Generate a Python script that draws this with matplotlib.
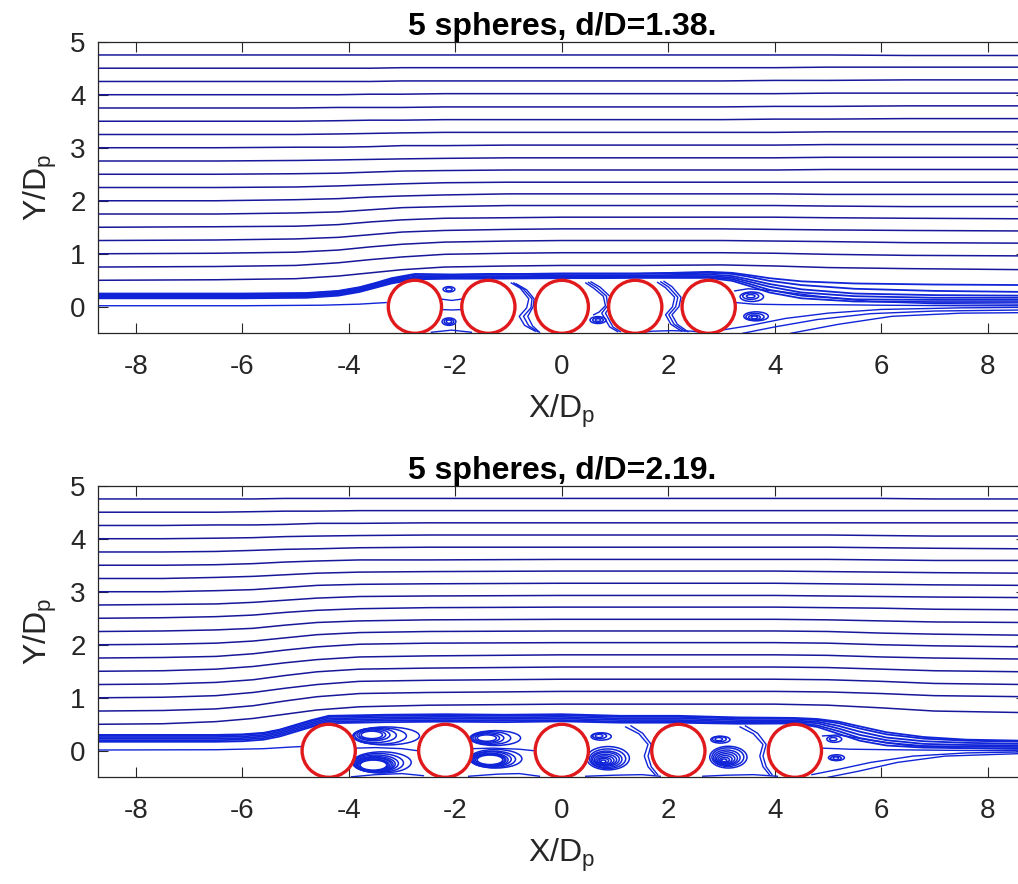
import matplotlib
matplotlib.use("Agg")
import matplotlib.pyplot as plt
from matplotlib.patches import Circle, Ellipse

plt.rcParams['font.family'] = ['Liberation Sans', 'DejaVu Sans']
plt.rcParams['mathtext.fontset'] = 'custom'
plt.rcParams['mathtext.rm'] = 'Liberation Sans'
plt.rcParams['axes.unicode_minus'] = False

# ---------------- data: top panel (d/D = 1.38) ----------------
TOP_TITLE = '5 spheres, d/D=1.38.'
TOP_SPHERES = [-2.76, -1.38, 0.0, 1.38, 2.76]

TOP_OUTER_X = [-8.71, -6.5, -5.0, -4.2, -3.6, -3.0, -2.2, -1.0, 0.0, 1.5, 3.0, 4.0, 5.0, 6.5, 8.71]
TOP_OUTER_Y = [
    [0.50, 0.51, 0.53, 0.58, 0.64, 0.70, 0.75, 0.77, 0.78, 0.78, 0.79, 0.77, 0.74, 0.72, 0.70],
    [0.75, 0.76, 0.78, 0.83, 0.89, 0.94, 0.99, 1.01, 1.02, 1.02, 1.02, 1.01, 0.99, 0.97, 0.96],
    [1.00, 1.01, 1.03, 1.07, 1.13, 1.18, 1.22, 1.24, 1.25, 1.25, 1.25, 1.24, 1.23, 1.21, 1.20],
    [1.25, 1.26, 1.28, 1.31, 1.36, 1.41, 1.44, 1.46, 1.47, 1.47, 1.47, 1.46, 1.45, 1.44, 1.43],
    [1.50, 1.51, 1.52, 1.55, 1.60, 1.64, 1.67, 1.68, 1.69, 1.69, 1.69, 1.69, 1.68, 1.67, 1.66],
    [1.75, 1.75, 1.77, 1.79, 1.83, 1.87, 1.89, 1.91, 1.91, 1.91, 1.91, 1.91, 1.90, 1.89, 1.89],
    [2.00, 2.00, 2.02, 2.04, 2.07, 2.09, 2.11, 2.13, 2.13, 2.13, 2.13, 2.13, 2.12, 2.12, 2.12],
    [2.25, 2.25, 2.26, 2.28, 2.30, 2.32, 2.34, 2.35, 2.35, 2.35, 2.35, 2.35, 2.35, 2.35, 2.35],
    [2.50, 2.50, 2.51, 2.52, 2.54, 2.56, 2.57, 2.58, 2.58, 2.58, 2.58, 2.58, 2.59, 2.59, 2.59],
    [2.75, 2.75, 2.76, 2.77, 2.78, 2.79, 2.80, 2.81, 2.81, 2.81, 2.81, 2.81, 2.82, 2.82, 2.82],
    [3.00, 3.00, 3.01, 3.01, 3.02, 3.04, 3.04, 3.05, 3.05, 3.05, 3.05, 3.05, 3.06, 3.06, 3.06],
    [3.25, 3.25, 3.25, 3.26, 3.27, 3.28, 3.29, 3.29, 3.29, 3.29, 3.29, 3.29, 3.30, 3.30, 3.30],
    [3.50, 3.50, 3.50, 3.51, 3.52, 3.52, 3.53, 3.53, 3.53, 3.53, 3.53, 3.54, 3.54, 3.55, 3.55],
    [3.75, 3.75, 3.75, 3.76, 3.76, 3.76, 3.77, 3.77, 3.77, 3.77, 3.77, 3.78, 3.78, 3.79, 3.79],
    [4.00, 4.00, 4.00, 4.00, 4.01, 4.01, 4.02, 4.02, 4.02, 4.02, 4.02, 4.02, 4.03, 4.03, 4.03],
    [4.25, 4.25, 4.25, 4.25, 4.25, 4.26, 4.26, 4.26, 4.26, 4.26, 4.26, 4.27, 4.27, 4.28, 4.28],
    [4.50, 4.50, 4.50, 4.50, 4.50, 4.51, 4.51, 4.51, 4.51, 4.51, 4.51, 4.51, 4.52, 4.52, 4.52],
    [4.75, 4.75, 4.75, 4.75, 4.75, 4.75, 4.75, 4.75, 4.75, 4.75, 4.75, 4.75, 4.75, 4.74, 4.74],
]

TOP_BUNDLE_X = [-8.71, -6.0, -4.8, -4.2, -3.8, -3.5, -3.2, -2.76, -2.07, -1.38, -0.69, 0.0,
                0.69, 1.38, 2.07, 2.76, 3.2, 3.5, 3.9, 4.5, 5.5, 7.0, 8.71]
TOP_BUNDLE_Y = [
    [0.25, 0.25, 0.26, 0.30, 0.37, 0.45, 0.54, 0.62, 0.61, 0.62, 0.62, 0.63, 0.63, 0.63, 0.64, 0.66, 0.64, 0.60, 0.54, 0.48, 0.44, 0.42, 0.41],
    [0.24, 0.24, 0.25, 0.29, 0.36, 0.44, 0.52, 0.60, 0.60, 0.61, 0.61, 0.62, 0.62, 0.62, 0.63, 0.64, 0.62, 0.57, 0.49, 0.41, 0.34, 0.30, 0.28],
    [0.22, 0.22, 0.23, 0.27, 0.34, 0.42, 0.50, 0.57, 0.58, 0.58, 0.58, 0.59, 0.59, 0.59, 0.60, 0.61, 0.58, 0.52, 0.43, 0.33, 0.25, 0.22, 0.21],
    [0.20, 0.20, 0.21, 0.25, 0.32, 0.40, 0.48, 0.55, 0.56, 0.56, 0.56, 0.57, 0.57, 0.57, 0.58, 0.58, 0.55, 0.48, 0.38, 0.27, 0.20, 0.17, 0.17],
    [0.18, 0.18, 0.19, 0.23, 0.30, 0.38, 0.46, 0.535, 0.545, 0.545, 0.55, 0.555, 0.555, 0.56, 0.56, 0.56, 0.52, 0.44, 0.32, 0.21, 0.14, 0.13, 0.13],
    [0.16, 0.16, 0.17, 0.21, 0.28, 0.36, 0.44, 0.52, 0.53, 0.53, 0.535, 0.54, 0.54, 0.545, 0.545, 0.545, 0.49, 0.40, 0.27, 0.16, 0.10, 0.09, 0.09],
]

TOP_CURVES = [
    # lowest inflow line, ends on the first sphere
    ([-8.71, -6.0, -4.5, -3.8, -3.3], [0.02, 0.02, 0.03, 0.05, 0.08]),
    # wake lines
    ([3.25, 3.5, 4.0, 4.8, 5.8, 7.0, 8.71], [0.30, 0.34, 0.30, 0.20, 0.10, 0.06, 0.05]),
    ([3.27, 3.6, 4.2, 5.0, 6.0, 7.5, 8.71], [0.08, 0.05, 0.04, 0.04, 0.03, 0.02, 0.02]),
    ([3.0, 3.5, 4.2, 5.0, 6.0, 7.5, 8.71], [-0.44, -0.36, -0.22, -0.12, -0.05, -0.02, -0.01]),
    ([3.4, 4.0, 4.8, 5.8, 7.0, 8.71], [-0.50, -0.38, -0.24, -0.13, -0.08, -0.06]),
    ([4.3, 5.2, 6.2, 7.5, 8.71], [-0.50, -0.33, -0.18, -0.12, -0.11]),
    # gap 1
    ([-2.30, -2.07, -1.84], [0.15, 0.12, 0.15]),
    ([-2.31, -2.07, -1.83], [-0.05, -0.06, -0.05]),
    ([-2.45, -2.07, -1.70], [-0.48, -0.44, -0.48]),
    # gap 2
    ([-0.95, -0.78, -0.62, -0.66, -0.80, -0.70, -0.50], [0.45, 0.35, 0.15, -0.02, -0.18, -0.35, -0.46]),
    ([-0.90, -0.72, -0.56, -0.58, -0.72, -0.62, -0.45], [0.45, 0.33, 0.15, -0.02, -0.18, -0.36, -0.47]),
    ([-0.85, -0.66, -0.52, -0.54, -0.64, -0.55, -0.42], [0.43, 0.32, 0.15, 0.00, -0.18, -0.36, -0.48]),
    # gap 3
    ([0.45, 0.60, 0.78, 0.82, 0.70, 0.60], [0.45, 0.35, 0.20, 0.02, -0.10, -0.15]),
    ([0.50, 0.66, 0.84, 0.86, 0.75, 0.90, 1.05], [0.46, 0.36, 0.20, 0.02, -0.12, -0.38, -0.47]),
    ([0.55, 0.72, 0.90, 0.92, 0.82, 0.96, 1.10], [0.47, 0.37, 0.20, 0.02, -0.12, -0.38, -0.47]),
    # gap 4
    ([1.80, 1.95, 2.12, 2.08, 1.95, 2.05, 2.25], [0.46, 0.36, 0.18, 0.00, -0.15, -0.33, -0.46]),
    ([1.86, 2.01, 2.18, 2.14, 2.01, 2.11, 2.31], [0.47, 0.37, 0.18, 0.00, -0.15, -0.33, -0.46]),
    ([1.92, 2.07, 2.24, 2.20, 2.07, 2.17, 2.37], [0.48, 0.38, 0.18, 0.00, -0.15, -0.33, -0.47]),
    ([1.45, 1.70, 2.07, 2.45, 2.70], [-0.49, -0.46, -0.45, -0.46, -0.49]),
]

# closed recirculation loops: centre x, centre y, width, height
TOP_VORTEX_X = [-2.12, -2.12, -2.12, -2.12, -2.12, 0.68, 0.68, 0.68, 3.55, 3.55, 3.57, 3.62, 3.62, 3.63, 3.65]
TOP_VORTEX_Y = [0.33, 0.33, -0.28, -0.28, -0.28, -0.25, -0.25, -0.25, 0.20, 0.20, 0.19, -0.20, -0.20, -0.19, -0.18]
TOP_VORTEX_W = [0.12, 0.22, 0.10, 0.18, 0.26, 0.10, 0.20, 0.30, 0.16, 0.30, 0.44, 0.12, 0.22, 0.34, 0.46]
TOP_VORTEX_H = [0.06, 0.10, 0.06, 0.10, 0.14, 0.05, 0.09, 0.13, 0.06, 0.12, 0.18, 0.05, 0.09, 0.13, 0.17]

# ---------------- data: bottom panel (d/D = 2.19) ----------------
BOT_TITLE = '5 spheres, d/D=2.19.'
BOT_SPHERES = [-4.38, -2.19, 0.0, 2.19, 4.38]

BOT_OUTER_X = [-8.71, -7.5, -6.5, -5.8, -5.2, -4.6, -3.8, -2.5, 0.0, 2.2, 4.0, 5.0, 6.0, 7.0, 8.71]
BOT_OUTER_Y = [
    [0.50, 0.51, 0.55, 0.61, 0.69, 0.77, 0.83, 0.86, 0.88, 0.88, 0.88, 0.86, 0.81, 0.75, 0.72],
    [0.75, 0.76, 0.79, 0.85, 0.94, 1.02, 1.08, 1.10, 1.12, 1.12, 1.12, 1.11, 1.08, 1.04, 1.02],
    [1.00, 1.01, 1.04, 1.10, 1.18, 1.25, 1.31, 1.33, 1.35, 1.35, 1.35, 1.34, 1.31, 1.27, 1.25],
    [1.25, 1.26, 1.29, 1.34, 1.42, 1.49, 1.54, 1.56, 1.58, 1.58, 1.58, 1.57, 1.54, 1.51, 1.49],
    [1.50, 1.51, 1.54, 1.59, 1.66, 1.72, 1.77, 1.79, 1.81, 1.81, 1.81, 1.80, 1.77, 1.75, 1.73],
    [1.75, 1.76, 1.78, 1.83, 1.90, 1.96, 2.01, 2.03, 2.04, 2.04, 2.04, 2.03, 2.00, 1.98, 1.96],
    [2.00, 2.01, 2.03, 2.07, 2.13, 2.19, 2.23, 2.25, 2.26, 2.26, 2.26, 2.25, 2.22, 2.20, 2.18],
    [2.25, 2.26, 2.28, 2.31, 2.37, 2.42, 2.45, 2.47, 2.48, 2.48, 2.48, 2.47, 2.45, 2.43, 2.42],
    [2.50, 2.51, 2.53, 2.56, 2.61, 2.65, 2.68, 2.70, 2.71, 2.71, 2.71, 2.70, 2.69, 2.67, 2.66],
    [2.75, 2.76, 2.77, 2.80, 2.84, 2.88, 2.91, 2.92, 2.93, 2.93, 2.93, 2.92, 2.91, 2.90, 2.89],
    [3.00, 3.00, 3.02, 3.04, 3.08, 3.12, 3.14, 3.15, 3.16, 3.16, 3.16, 3.15, 3.14, 3.13, 3.12],
    [3.25, 3.25, 3.27, 3.29, 3.32, 3.35, 3.37, 3.38, 3.39, 3.39, 3.39, 3.38, 3.37, 3.36, 3.35],
    [3.50, 3.50, 3.51, 3.53, 3.56, 3.58, 3.60, 3.60, 3.61, 3.61, 3.61, 3.61, 3.60, 3.59, 3.59],
    [3.75, 3.75, 3.76, 3.78, 3.80, 3.81, 3.83, 3.84, 3.84, 3.84, 3.84, 3.84, 3.83, 3.82, 3.81],
    [4.00, 4.00, 4.01, 4.02, 4.04, 4.05, 4.06, 4.07, 4.07, 4.07, 4.07, 4.07, 4.06, 4.05, 4.05],
    [4.25, 4.25, 4.26, 4.26, 4.27, 4.29, 4.29, 4.30, 4.30, 4.30, 4.30, 4.30, 4.30, 4.30, 4.30],
    [4.50, 4.50, 4.50, 4.51, 4.52, 4.52, 4.53, 4.53, 4.53, 4.53, 4.53, 4.53, 4.53, 4.53, 4.53],
    [4.75, 4.75, 4.75, 4.75, 4.76, 4.76, 4.76, 4.76, 4.76, 4.76, 4.76, 4.76, 4.76, 4.75, 4.75],
]

BOT_BUNDLE_X = [-8.71, -6.5, -6.0, -5.6, -5.3, -5.0, -4.7, -4.38, -3.3, -2.19, -1.1, 0.0,
                1.1, 2.19, 3.3, 4.38, 4.8, 5.2, 5.6, 6.1, 6.8, 7.6, 8.71]
BOT_BUNDLE_Y = [
    [0.30, 0.30, 0.31, 0.34, 0.40, 0.49, 0.58, 0.66, 0.68, 0.69, 0.68, 0.69, 0.66, 0.66, 0.63, 0.62, 0.60, 0.55, 0.46, 0.35, 0.26, 0.21, 0.19],
    [0.29, 0.29, 0.30, 0.33, 0.39, 0.48, 0.56, 0.64, 0.66, 0.67, 0.66, 0.67, 0.64, 0.64, 0.61, 0.60, 0.58, 0.52, 0.42, 0.31, 0.23, 0.19, 0.17],
    [0.26, 0.26, 0.27, 0.30, 0.36, 0.45, 0.53, 0.61, 0.63, 0.64, 0.63, 0.64, 0.61, 0.61, 0.58, 0.57, 0.55, 0.47, 0.36, 0.25, 0.18, 0.15, 0.13],
    [0.23, 0.23, 0.24, 0.27, 0.33, 0.42, 0.50, 0.58, 0.60, 0.61, 0.60, 0.61, 0.58, 0.58, 0.55, 0.55, 0.52, 0.42, 0.30, 0.20, 0.13, 0.11, 0.10],
    [0.20, 0.20, 0.21, 0.24, 0.30, 0.39, 0.47, 0.55, 0.57, 0.58, 0.57, 0.58, 0.55, 0.55, 0.53, 0.53, 0.48, 0.37, 0.24, 0.15, 0.09, 0.08, 0.07],
    [0.17, 0.17, 0.18, 0.21, 0.27, 0.36, 0.45, 0.52, 0.54, 0.55, 0.54, 0.555, 0.53, 0.53, 0.51, 0.515, 0.45, 0.32, 0.19, 0.10, 0.06, 0.05, 0.04],
]

BOT_CURVES = [
    ([-8.71, -6.5, -5.6, -5.1, -4.9], [0.015, 0.02, 0.04, 0.07, 0.08]),
    # wake
    ([4.9, 5.2, 5.8, 6.5, 7.5, 8.71], [0.28, 0.30, 0.20, 0.10, 0.05, 0.03]),
    ([4.9, 5.4, 6.2, 7.2, 8.71], [0.05, 0.03, 0.02, 0.01, 0.00]),
    ([4.7, 5.2, 5.8, 6.6, 7.6, 8.71], [-0.45, -0.35, -0.22, -0.10, -0.04, -0.02]),
    ([5.0, 5.6, 6.3, 7.2, 8.71], [-0.50, -0.38, -0.22, -0.10, -0.05]),
    # separating lines in gaps
    ([-3.88, -3.5, -3.0, -2.70], [0.05, 0.06, 0.04, 0.00]),
    ([-1.69, -1.3, -0.8, -0.51], [0.04, 0.05, 0.03, 0.00]),
    ([-3.95, -3.5, -3.0, -2.6], [-0.49, -0.45, -0.43, -0.47]),
    ([-1.75, -1.2, -0.8, -0.42], [-0.48, -0.44, -0.43, -0.48]),
    ([0.45, 1.0, 1.5, 1.85], [-0.48, -0.46, -0.45, -0.48]),
    ([2.65, 3.1, 3.6, 4.05], [-0.48, -0.46, -0.45, -0.48]),
    # S-shaped lines at the rear of gaps 3 and 4
    ([1.20, 1.45, 1.62, 1.55, 1.62, 1.75], [0.45, 0.32, 0.12, -0.10, -0.30, -0.45]),
    ([1.30, 1.52, 1.68, 1.62, 1.68, 1.80], [0.47, 0.33, 0.12, -0.10, -0.30, -0.45]),
    ([3.35, 3.60, 3.78, 3.72, 3.78, 3.90], [0.45, 0.32, 0.12, -0.10, -0.30, -0.45]),
    ([3.45, 3.68, 3.84, 3.78, 3.84, 3.95], [0.47, 0.33, 0.12, -0.10, -0.30, -0.45]),
]

BOT_VORTEX_X = [-3.57, -3.56, -3.54, -3.50, -3.42, -3.30,
                -3.54, -3.54, -3.54, -3.53, -3.52, -3.51, -3.49, -3.45, -3.38,
                -1.41, -1.40, -1.38, -1.33, -1.25,
                -1.35, -1.35, -1.35, -1.34, -1.32, -1.29, -1.24,
                0.70, 0.71, 0.74,
                0.78, 0.79, 0.80, 0.81, 0.82, 0.83, 0.84, 0.86, 0.87,
                2.95, 2.96, 2.98,
                3.05, 3.06, 3.07, 3.08, 3.09, 3.10, 3.12, 3.13,
                5.15, 5.15, 5.16, 5.10, 5.12]
BOT_VORTEX_Y = [0.30, 0.30, 0.30, 0.29, 0.28, 0.28,
                -0.27, -0.27, -0.27, -0.26, -0.26, -0.25, -0.24, -0.23, -0.22,
                0.24, 0.24, 0.24, 0.24, 0.24,
                -0.17, -0.17, -0.17, -0.17, -0.16, -0.16, -0.15,
                0.28, 0.28, 0.27,
                -0.20, -0.19, -0.19, -0.18, -0.17, -0.16, -0.16, -0.15, -0.14,
                0.22, 0.22, 0.21,
                -0.18, -0.17, -0.16, -0.15, -0.14, -0.13, -0.12, -0.12,
                -0.14, -0.14, -0.13, 0.22, 0.22]
BOT_VORTEX_W = [0.40, 0.50, 0.62, 0.78, 1.00, 1.25,
                0.50, 0.55, 0.60, 0.65, 0.70, 0.76, 0.84, 0.95, 1.10,
                0.36, 0.46, 0.58, 0.74, 0.95,
                0.48, 0.54, 0.60, 0.66, 0.74, 0.84, 0.98,
                0.14, 0.26, 0.38,
                0.10, 0.18, 0.26, 0.34, 0.42, 0.50, 0.58, 0.68, 0.80,
                0.14, 0.26, 0.36,
                0.10, 0.18, 0.26, 0.34, 0.42, 0.50, 0.60, 0.70,
                0.10, 0.20, 0.30, 0.14, 0.28]
BOT_VORTEX_H = [0.14, 0.18, 0.22, 0.27, 0.31, 0.34,
                0.19, 0.21, 0.23, 0.25, 0.27, 0.29, 0.32, 0.36, 0.40,
                0.12, 0.16, 0.20, 0.24, 0.28,
                0.18, 0.20, 0.22, 0.25, 0.28, 0.31, 0.35,
                0.06, 0.10, 0.14,
                0.05, 0.09, 0.13, 0.17, 0.21, 0.26, 0.31, 0.37, 0.44,
                0.06, 0.10, 0.13,
                0.05, 0.09, 0.14, 0.19, 0.24, 0.29, 0.35, 0.41,
                0.05, 0.08, 0.11, 0.06, 0.12]

X_TICKS = [-8, -6, -4, -2, 0, 2, 4, 6, 8]
Y_TICKS = [0, 1, 2, 3, 4, 5]
X_LIM = (-8.715, 8.715)
Y_LIM = (-0.5, 5.0)

# ---------------- drawing ----------------
NAVY = '#17179a'
BLUE = '#1024d8'
RED = '#e0191c'
AXC = '#262626'

fig = plt.figure(figsize=(10.18, 8.84), dpi=100)
ax_top = fig.add_axes([0.09627, 0.62296, 0.91120, 0.32986])
ax_bot = fig.add_axes([0.09627, 0.12070, 0.91120, 0.32986])


def draw(ax, title, spheres, ox, oy, bx, by, curves, vx, vy, vw, vh):
    for row in oy:
        ax.plot(ox, row, color=NAVY, lw=1.1, zorder=2)
    for row in by:
        ax.plot(bx, row, color=BLUE, lw=1.3, zorder=2)
    for cx, cy in curves:
        ax.plot(cx, cy, color=BLUE, lw=1.0, zorder=2)
    for x, y, w, h in zip(vx, vy, vw, vh):
        ax.add_patch(Ellipse((x, y), w, h, fill=False, edgecolor=BLUE, lw=1.1, zorder=2))
    for s in spheres:
        ax.add_patch(Circle((s, 0.0), 0.5, facecolor='white', edgecolor=RED, lw=2.4, zorder=3))
    ax.set_xlim(*X_LIM)
    ax.set_ylim(*Y_LIM)
    ax.set_xticks(X_TICKS)
    ax.set_yticks(Y_TICKS)
    ax.tick_params(axis='both', direction='in', length=7, width=0.8, colors=AXC,
                   labelsize=20, top=True, right=True)
    ax.tick_params(axis='x', pad=15)
    ax.tick_params(axis='y', pad=9)
    for sp in ax.spines.values():
        sp.set_color(AXC)
        sp.set_linewidth(0.9)
    ax.set_title(title, fontsize=23, fontweight='bold', pad=5, color='black')
    ax.set_xlabel('X/D$_\\mathregular{p}$', fontsize=23, color=AXC, labelpad=9)
    ax.set_ylabel('Y/D$_\\mathregular{p}$', fontsize=23, color=AXC, labelpad=8)


draw(ax_top, TOP_TITLE, TOP_SPHERES, TOP_OUTER_X, TOP_OUTER_Y, TOP_BUNDLE_X, TOP_BUNDLE_Y,
     TOP_CURVES, TOP_VORTEX_X, TOP_VORTEX_Y, TOP_VORTEX_W, TOP_VORTEX_H)
draw(ax_bot, BOT_TITLE, BOT_SPHERES, BOT_OUTER_X, BOT_OUTER_Y, BOT_BUNDLE_X, BOT_BUNDLE_Y,
     BOT_CURVES, BOT_VORTEX_X, BOT_VORTEX_Y, BOT_VORTEX_W, BOT_VORTEX_H)

fig.savefig('out.png', dpi=100)
